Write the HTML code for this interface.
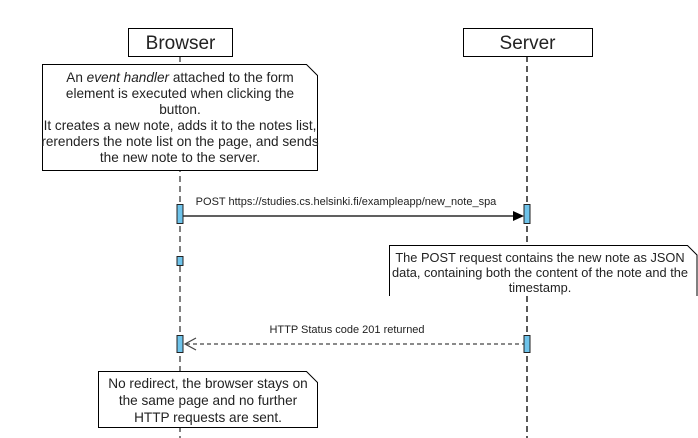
<!DOCTYPE html>
<html><head><meta charset="utf-8"><style>
html,body{margin:0;padding:0;background:#fff;}
svg{display:block;}
text{font-family:"Liberation Sans",Arial,sans-serif;fill:#222;}
</style></head><body>
<svg width="698" height="438" viewBox="0 0 698 438" xmlns="http://www.w3.org/2000/svg">
<rect width="698" height="438" fill="#fff"/>
<line x1="180" y1="56" x2="180" y2="438" stroke="#555" stroke-width="1.5" stroke-dasharray="6,4"/>
<line x1="527" y1="56" x2="527" y2="438" stroke="#222" stroke-width="1.5" stroke-dasharray="6,4"/>
<rect x="128.5" y="28.5" width="104" height="28" fill="#fff" stroke="#000"/>
<text x="180.5" y="49" font-size="19" text-anchor="middle">Browser</text>
<rect x="463.5" y="28.5" width="129" height="28" fill="#fff" stroke="#000"/>
<text x="527.5" y="49" font-size="19" text-anchor="middle">Server</text>
<path d="M42.5,64.5 H306.5 L317.5,75.5 V170.5 H42.5 Z" fill="#fff" stroke="#000"/>
<g font-size="13.6" text-anchor="middle">
<text x="180" y="82">An <tspan font-style="italic">event handler</tspan> attached to the form</text>
<text x="180" y="98">element is executed when clicking the</text>
<text x="180" y="114">button.</text>
<text x="180" y="130">It creates a new note, adds it to the notes list,</text>
<text x="180" y="146">rerenders the note list on the page, and sends</text>
<text x="180" y="162">the new note to the server.</text>
</g>
<line x1="183" y1="216" x2="514" y2="216" stroke="#000" stroke-width="1.2"/>
<polygon points="524,216 513,211 513,221" fill="#000"/>
<text x="346" y="205" font-size="11" text-anchor="middle">POST https://studies.cs.helsinki.fi/exampleapp/new_note_spa</text>
<rect x="177" y="204.5" width="6" height="19" fill="#6ec3ea" stroke="#222"/>
<rect x="524" y="204.5" width="6" height="19" fill="#6ec3ea" stroke="#222"/>
<rect x="177" y="256.5" width="6" height="9" fill="#6ec3ea" stroke="#222"/>
<path d="M389.5,296 V245.5 H687.5 L697,255 V296" fill="#fff" stroke="#000"/>
<g font-size="12.8" text-anchor="middle">
<text x="540" y="262">The POST request contains the new note as JSON</text>
<text x="540" y="277">data, containing both the content of the note and the</text>
<text x="540" y="292">timestamp.</text>
</g>
<line x1="186" y1="344" x2="524" y2="344" stroke="#444" stroke-width="1.2" stroke-dasharray="4,3"/>
<polyline points="196,338 185,344 196,350" fill="none" stroke="#444" stroke-width="1.2"/>
<text x="347" y="333" font-size="11" text-anchor="middle">HTTP Status code 201 returned</text>
<rect x="177" y="335.5" width="6" height="17" fill="#6ec3ea" stroke="#222"/>
<rect x="524" y="335.5" width="6" height="17" fill="#6ec3ea" stroke="#222"/>
<path d="M98.5,371.5 H306.5 L317.5,382.5 V427.5 H98.5 Z" fill="#fff" stroke="#000"/>
<g font-size="13.6" text-anchor="middle">
<text x="208" y="388">No redirect, the browser stays on</text>
<text x="208" y="405">the same page and no further</text>
<text x="208" y="422">HTTP requests are sent.</text>
</g>
</svg>
</body></html>
